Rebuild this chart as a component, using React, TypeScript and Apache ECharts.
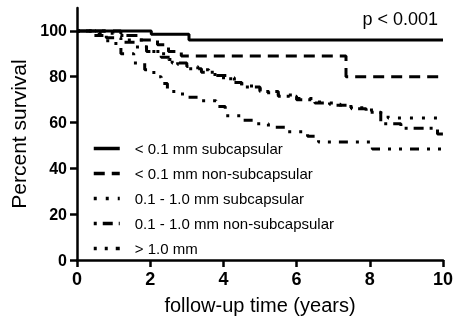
import React, { useEffect, useRef } from "react";
import * as echarts from "echarts";

const seriesNames = [
  "< 0.1 mm subcapsular",
  "< 0.1 mm non-subcapsular",
  "0.1 - 1.0 mm subcapsular",
  "0.1 - 1.0 mm non-subcapsular",
  "> 1.0 mm",
];

const s1Times = [0, 2.03, 3.06, 10];
const s1Values = [100, 98.5, 96, 96];

const s2Times = [0, 1.2, 1.7, 2.2, 2.5, 2.85, 7.35, 10];
const s2Values = [100, 98, 96, 94, 91, 89, 80, 80];

const s3Times = [0, 0.6, 1.0, 1.3, 1.8, 2.1, 2.5, 2.75, 3.0, 3.3, 3.6, 3.9, 4.3, 4.5, 4.9, 5.1, 5.5, 6.0, 6.5, 6.9, 7.2, 7.6, 7.9, 8.3, 8.5, 10];
const s3Values = [100, 99, 98, 96, 93, 90, 87.5, 85.5, 84.5, 83, 81, 79.5, 78, 76, 74.5, 73, 72, 70.5, 69, 68, 67, 66.5, 65.5, 64, 62, 62];

const s4Times = [0, 0.8, 1.2, 1.6, 1.9, 2.3, 2.6, 3.0, 3.4, 3.8, 4.2, 4.5, 5.0, 5.5, 6.0, 6.5, 7.0, 7.5, 7.9, 8.3, 8.85, 9.85, 10];
const s4Values = [100, 97, 95, 93, 91, 88.5, 86, 83.5, 82, 80.5, 77.5, 75.5, 73.5, 71.5, 70, 68.5, 67.5, 66, 64.5, 59.5, 57.5, 55, 55];

const s5Times = [0, 0.4, 0.84, 1.2, 1.55, 1.85, 2.1, 2.3, 2.47, 2.75, 3.0, 3.3, 3.8, 4.05, 4.5, 4.87, 5.23, 5.75, 6.3, 6.6, 8.07, 10];
const s5Values = [100, 98, 94.5, 90, 86, 83, 80, 77, 73.5, 72.5, 71, 69.5, 67, 63, 61, 59.5, 58, 56, 54, 51.5, 48.5, 48.5];

const xTicks = [0, 2, 4, 6, 8, 10];
const yTicks = [0, 20, 40, 60, 80, 100];

const FONT = "'Liberation Sans', Arial, Helvetica, sans-serif";

const zip = (t: number[], v: number[]) => t.map((x, i) => [x, v[i]]);

export default function App() {
  const ref = useRef<HTMLDivElement>(null);
  useEffect(() => {
    if (!ref.current) return;
    const chart = echarts.init(ref.current, undefined, { renderer: "svg" });
    const dashes: any[] = ["solid", [11, 7], [3, 9], [3, 6, 10, 6], [3, 8, 3, 8, 9, 8]];
    const data = [
      zip(s1Times, s1Values),
      zip(s2Times, s2Values),
      zip(s3Times, s3Values),
      zip(s4Times, s4Values),
      zip(s5Times, s5Values),
    ];
    chart.setOption({
      animation: false,
      grid: { left: 77, right: 10, top: 8, bottom: 61, containLabel: false },
      xAxis: {
        type: "value",
        min: 0,
        max: 10,
        interval: 2,
        name: "follow-up time (years)",
        nameLocation: "middle",
        nameGap: 35,
        nameTextStyle: { fontFamily: FONT, fontSize: 20, color: "#000" },
        axisLine: { show: true, lineStyle: { color: "#000", width: 2.5 } },
        axisTick: { show: true, length: 7, lineStyle: { color: "#000", width: 2.5 } },
        axisLabel: {
          margin: 10,
          fontFamily: FONT,
          fontSize: 18,
          fontWeight: "bold",
          color: "#000",
          customValues: xTicks,
        },
        splitLine: { show: false },
      },
      yAxis: {
        type: "value",
        min: 0,
        max: 110,
        interval: 20,
        name: "Percent survival",
        nameLocation: "middle",
        nameGap: 46,
        nameTextStyle: { fontFamily: FONT, fontSize: 21, color: "#000" },
        axisLine: { show: true, lineStyle: { color: "#000", width: 2.5 } },
        axisTick: { show: true, length: 7, lineStyle: { color: "#000", width: 2.5 }, customValues: yTicks },
        axisLabel: {
          margin: 10,
          fontFamily: FONT,
          fontSize: 16,
          fontWeight: "bold",
          color: "#000",
          customValues: yTicks,
        },
        splitLine: { show: false },
      },
      legend: {
        orient: "vertical",
        left: 92,
        top: 141,
        padding: 0,
        itemWidth: 26,
        itemHeight: 14,
        itemGap: 10,
        data: seriesNames,
        itemStyle: { opacity: 0 },
        lineStyle: { width: 3.5 },
        textStyle: { fontFamily: FONT, fontSize: 15, color: "#000", padding: [0, 0, 0, 10] },
      },
      graphic: [
        {
          type: "text",
          right: 18,
          top: 10,
          style: { text: "p < 0.001", font: `18px ${FONT}`, fill: "#000" },
        },
      ],
      series: seriesNames.map((name, i) => ({
        name,
        type: "line",
        step: "end",
        symbol: "none",
        data: data[i],
        lineStyle: { color: "#000", width: 3, type: dashes[i] },
        itemStyle: { color: "#000" },
        z: 5 - i,
      })),
    });
    return () => chart.dispose();
  }, []);
  return <div ref={ref} style={{ position: "fixed", left: 0, top: 0, width: 456, height: 321 }} />;
}
